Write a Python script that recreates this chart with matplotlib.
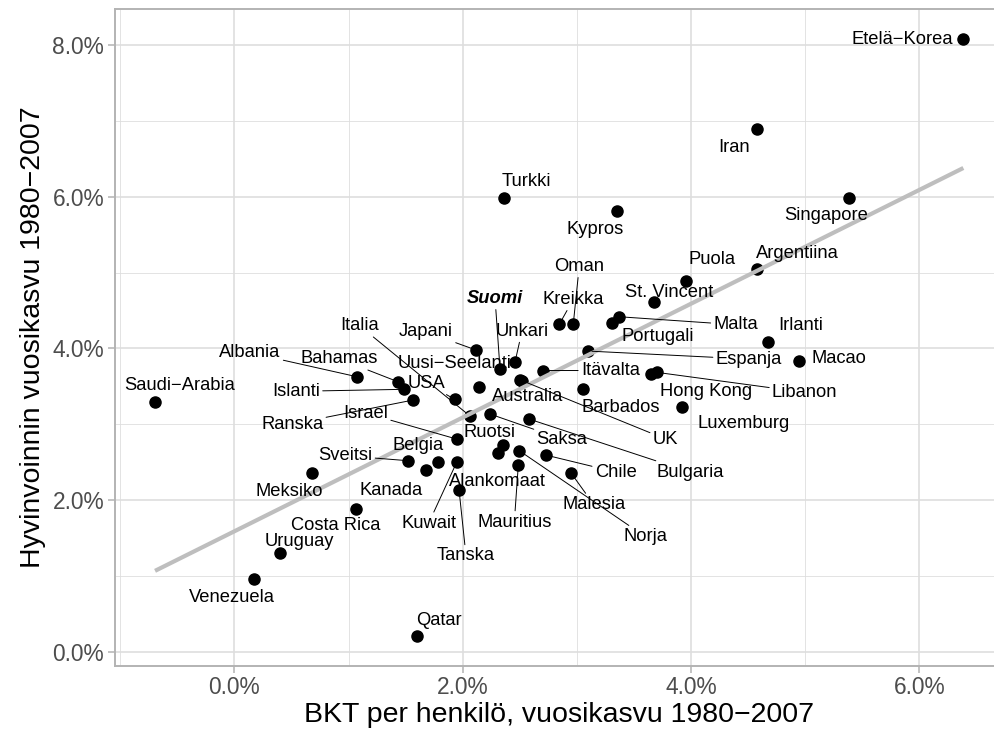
import matplotlib
matplotlib.use("Agg")
import matplotlib.pyplot as plt
import numpy as np
from matplotlib.ticker import FuncFormatter, MultipleLocator

# ---------------- data (annual growth, %) ----------------
countries = ["Etelä−Korea", "Iran", "Turkki", "Kypros", "Singapore", "Argentiina",
             "Puola", "St. Vincent", "Malta", "Portugali", "Kreikka", "Oman",
             "Irlanti", "Macao", "Espanja", "Itävalta", "Hong Kong", "Libanon",
             "UK", "Barbados", "Luxemburg", "Bulgaria", "Chile", "Malesia",
             "Norja", "Japani", "Suomi", "Unkari", "Uusi−Seelanti", "USA",
             "Italia", "Saksa", "Saudi−Arabia", "Albania", "Bahamas", "Islanti",
             "Ranska", "Israel", "Ruotsi", "Alankomaat", "Mauritius", "Kuwait",
             "Tanska", "Sveitsi", "Belgia", "Kanada", "Meksiko", "Costa Rica",
             "Uruguay", "Venezuela", "Qatar", "Australia"]

gdp_growth = [6.384, 4.574, 2.362, 3.354, 5.383, 4.574,
              3.955, 3.675, 3.366, 3.305, 2.846, 2.968,
              4.676, 4.945, 3.095, 2.706, 3.646, 3.699,
              2.506, 3.056, 3.918, 2.581, 2.727, 2.946,
              2.496, 2.116, 2.327, 2.458, 2.143, 1.930,
              2.060, 2.239, -0.694, 1.074, 1.433, 1.486,
              1.567, 1.947, 2.356, 2.312, 2.487, 1.947,
              1.968, 1.524, 1.786, 1.679, 0.678, 1.066,
              0.400, 0.175, 1.597, 2.515]

welfare_growth = [8.080, 6.893, 5.979, 5.811, 5.983, 5.050,
                  4.884, 4.607, 4.417, 4.334, 4.317, 4.317,
                  4.087, 3.832, 3.964, 3.707, 3.661, 3.683,
                  3.582, 3.463, 3.230, 3.067, 2.592, 2.361,
                  2.649, 3.978, 3.723, 3.819, 3.496, 3.327,
                  3.111, 3.133, 3.296, 3.625, 3.559, 3.459,
                  3.318, 2.803, 2.724, 2.623, 2.460, 2.496,
                  2.131, 2.517, 2.504, 2.394, 2.351, 1.876,
                  1.296, 0.953, 0.208, 3.570]

highlight = "Suomi"

# ---------------- label layout (offsets in pixels, segment flag) ----------------
label_layout = {
    "Etelä−Korea": (-61, 0, False), "Iran": (-23, -18, False), "Turkki": (22, 17, False),
    "Kypros": (-22, -18, False), "Singapore": (-23, -18, False), "Argentiina": (41, 15, False),
    "Puola": (26, 22, False), "St. Vincent": (15, 10, False), "Malta": (117, -8, True),
    "Portugali": (46, -14, False), "Kreikka": (14, 25, True), "Oman": (6, 58, True),
    "Irlanti": (32, 16, False), "Macao": (40, 3, False), "Espanja": (161, -8, True),
    "Itävalta": (67, 0, True), "Hong Kong": (55, -17, False), "Libanon": (148, -20, True),
    "UK": (145, -59, True), "Barbados": (37, -18, False), "Luxemburg": (62, -17, False),
    "Bulgaria": (161, -53, True), "Chile": (70, -17, True), "Malesia": (23, -32, True),
    "Norja": (126, -86, True), "Japani": (-50, 18, True), "Suomi": (-5, 71, True),
    "Unkari": (7, 31, True), "Uusi−Seelanti": (-24, 23, False), "USA": (-28, 16, True),
    "Italia": (-110, 90, True), "Saksa": (72, -25, True), "Saudi−Arabia": (25, 16, False),
    "Albania": (-107, 24, True), "Bahamas": (-59, 23, True), "Islanti": (-108, -2, True),
    "Ranska": (-121, -24, True), "Israel": (-91, 26, True), "Ruotsi": (-14, 13, False),
    "Alankomaat": (-1, -29, False), "Mauritius": (-4, -57, True), "Kuwait": (-28, -61, True),
    "Tanska": (7, -66, True), "Sveitsi": (-63, 5, True), "Belgia": (-20, 16, False),
    "Kanada": (-35, -20, False), "Meksiko": (-22, -18, False), "Costa Rica": (-20, -16, False),
    "Uruguay": (19, 12, False), "Venezuela": (-22, -18, False), "Qatar": (22, 15, False),
    "Australia": (6, -16, False),
}

plt.rcParams['font.family'] = ['Liberation Sans', 'DejaVu Sans']

x = np.array(gdp_growth)
y = np.array(welfare_growth)

W, H = 995, 736
fig = plt.figure(figsize=(W / 100, H / 100), dpi=100)

# ggplot-like 5% expansion
xr = x.max() - x.min()
yr = y.max() - y.min()
xlim = (x.min() - 0.05 * xr, x.max() + 0.05 * xr)
ylim = (y.min() - 0.05 * yr, y.max() + 0.05 * yr)

# panel placement in pixels
px_per_x = 114.2
x0_px = 234.3
left_px = x0_px + xlim[0] * px_per_x
right_px = x0_px + xlim[1] * px_per_x
top_px, bot_px = 9.2, 665.6
ax = fig.add_axes([left_px / W, 1 - bot_px / H, (right_px - left_px) / W, (bot_px - top_px) / H])
ax.set_xlim(*xlim)
ax.set_ylim(*ylim)

ax.set_facecolor("white")
for s in ax.spines.values():
    s.set_color("#B3B3B3")
    s.set_linewidth(1.4)

ax.xaxis.set_major_locator(MultipleLocator(2))
ax.yaxis.set_major_locator(MultipleLocator(2))
ax.xaxis.set_minor_locator(MultipleLocator(1))
ax.yaxis.set_minor_locator(MultipleLocator(1))
fmt = FuncFormatter(lambda v, _: f"{v:.1f}%")
ax.xaxis.set_major_formatter(fmt)
ax.yaxis.set_major_formatter(fmt)
ax.grid(which="major", color="#DEDEDE", linewidth=1.2, zorder=0)
ax.grid(which="minor", color="#DEDEDE", linewidth=0.6, zorder=0)
ax.set_axisbelow(True)
ax.tick_params(which="major", length=5, width=1.1, color="#B3B3B3",
               labelsize=16.4, labelcolor="#4D4D4D", pad=2.5)
ax.tick_params(which="minor", length=0)

# points
ax.plot(x, y, linestyle="none", marker="o", markersize=8, color="black", zorder=3)

# linear fit
k, b = np.polyfit(x, y, 1)
xs = np.array([x.min(), x.max()])
ax.plot(xs, k * xs + b, color="#BEBEBE", linewidth=3, solid_capstyle="butt", zorder=4)

# labels
for name, xi, yi in zip(countries, x, y):
    dx, dy, seg = label_layout[name]
    kw = dict(fontsize=13.2, color="black", ha="center", va="center", zorder=5)
    if name == highlight:
        kw.update(fontweight="bold", fontstyle="italic")
    ap = None
    if seg:
        ap = dict(arrowstyle="-", color="black", lw=0.7, shrinkA=0, shrinkB=3)
    ax.annotate(name, (xi, yi), xytext=(dx, dy), textcoords="offset pixels",
                arrowprops=ap, **kw)

ax.set_xlabel("BKT per henkilö, vuosikasvu 1980−2007", fontsize=20.5, color="black", labelpad=2.5)
ax.set_ylabel("Hyvinvoinnin vuosikasvu 1980−2007", fontsize=20.5, color="black", labelpad=5)

fig.savefig("out.png", dpi=100)
